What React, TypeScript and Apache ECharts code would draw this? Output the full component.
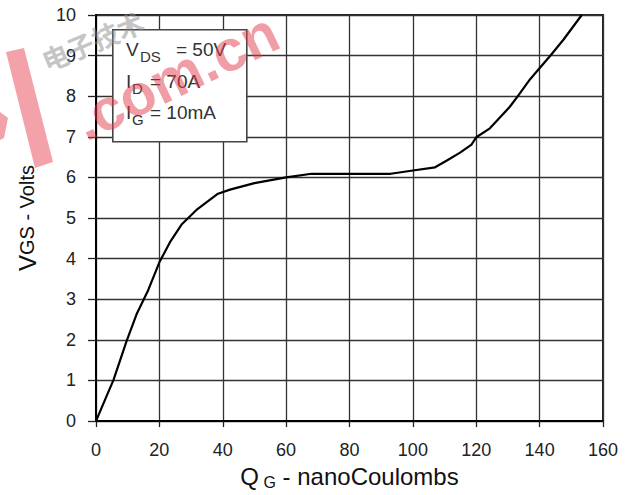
import React, { useEffect, useRef } from "react";
import * as echarts from "echarts";

const qg = [0, 3.3, 5.5, 9.7, 12.8, 16.5, 20, 23.3, 27, 31.7, 38.5, 42.3, 50, 60, 68, 80, 93, 100, 107, 110.6, 114.9, 118.5, 120, 124.3, 130.6, 133.3, 137, 140.1, 143.3, 147.5, 153.3];
const vgs = [0, 0.61, 1.01, 1.98, 2.63, 3.23, 3.91, 4.4, 4.84, 5.2, 5.6, 5.7, 5.86, 6.0, 6.09, 6.09, 6.09, 6.17, 6.25, 6.41, 6.61, 6.81, 6.99, 7.21, 7.74, 8.02, 8.42, 8.7, 8.99, 9.39, 10.0];
const xTicks = [0, 20, 40, 60, 80, 100, 120, 140, 160];
const yTicks = [0, 1, 2, 3, 4, 5, 6, 7, 8, 9, 10];
const conditions = [
  { main: "V", sub: "DS", rest: "= 50V" },
  { main: "I", sub: "D", rest: "= 70A" },
  { main: "I", sub: "G", rest: "= 10mA" },
];

const FONT = "'Liberation Sans', Arial, sans-serif";

export default function App() {
  const ref = useRef<HTMLDivElement>(null);
  useEffect(() => {
    if (!ref.current) return;
    const chart = echarts.init(ref.current, null, { renderer: "svg" });
    const points = qg.map((q, i) => [q, vgs[i]]);
    const legendTexts: any[] = [];
    const rowY = [50, 82, 113];
    conditions.forEach((c, i) => {
      const y = rowY[i];
      const mainW = c.main === "V" ? 13 : 5;
      legendTexts.push({
        type: "text", left: 126, top: y - 10,
        style: { text: c.main, font: `19px ${FONT}`, fill: "#333" },
      });
      legendTexts.push({
        type: "text", left: 126 + mainW + 1, top: y - 1,
        style: { text: c.sub, font: `15px ${FONT}`, fill: "#333" },
      });
      legendTexts.push({
        type: "text", left: c.main === "V" ? 176 : 150, top: y - 10,
        style: { text: c.rest, font: `19px ${FONT}`, fill: "#333" },
      });
    });
    chart.setOption({
      animation: false,
      backgroundColor: "#fff",
      grid: {
        left: 96, right: 29, top: 15, bottom: 66,
        show: true, borderColor: "#222", borderWidth: 2, backgroundColor: "transparent",
      },
      xAxis: {
        type: "value", min: 0, max: 160, interval: 20,
        name: "{q|Q}{s| G}{r| - nanoCoulombs}",
        nameLocation: "middle", nameGap: 39,
        nameTextStyle: {
          rich: {
            q: { fontSize: 24, fontFamily: FONT, color: "#111", lineHeight: 28, verticalAlign: "middle" },
            s: { fontSize: 16, fontFamily: FONT, color: "#111", lineHeight: 15, verticalAlign: "bottom" },
            r: { fontSize: 24, fontFamily: FONT, color: "#111", lineHeight: 28, verticalAlign: "middle" },
          },
        },
        axisLine: { show: true, onZero: false, lineStyle: { color: "#000", width: 2 } },
        axisTick: { show: true, length: 6, lineStyle: { color: "#222", width: 1.3 } },
        axisLabel: {
          margin: 20, fontSize: 18, fontFamily: FONT, color: "#222",
          formatter: (v: number) => (xTicks.includes(v) ? String(v) : ""),
        },
        splitLine: { show: true, lineStyle: { color: "#333", width: 1.3 } },
      },
      yAxis: {
        type: "value", min: 0, max: 10, interval: 1,
        name: "{v|V}{g|GS - Volts}",
        nameLocation: "middle", nameGap: 57,
        nameTextStyle: {
          rich: {
            v: { fontSize: 24, fontFamily: FONT, color: "#111" },
            g: { fontSize: 20, fontFamily: FONT, color: "#111" },
          },
        },
        axisLine: { show: true, onZero: false, lineStyle: { color: "#000", width: 2 } },
        axisTick: { show: true, length: 8, lineStyle: { color: "#222", width: 1.3 } },
        axisLabel: {
          margin: 20, fontSize: 18, fontFamily: FONT, color: "#222",
          formatter: (v: number) => (yTicks.includes(v) ? String(v) : ""),
        },
        splitLine: { show: true, lineStyle: { color: "#333", width: 1.3 } },
      },
      series: [
        {
          type: "line", data: points, showSymbol: false, symbol: "none",
          lineStyle: { color: "#000", width: 2.2 }, silent: true, z: 5,
        },
      ],
      graphic: [
        {
          type: "rect", left: 112, top: 29, z: 10,
          shape: { width: 134, height: 112 },
          style: { fill: "#fff", stroke: "#444", lineWidth: 1.6 },
        },
        ...legendTexts.map((t) => ({ ...t, z: 11 })),
        {
          type: "text", x: 90, y: 150, rotation: 0.45, z: 20,
          style: {
            text: ".com.cn", font: `bold 58px ${FONT}`, fill: "rgba(228,60,75,0.5)",
            verticalAlign: "bottom",
          },
        },
        {
          type: "text", x: 48, y: 74, rotation: 0.4, z: 20,
          style: {
            text: "电子技术", font: `bold 27px 'Noto Sans CJK SC', sans-serif`, fill: "rgba(140,140,140,0.5)",
            verticalAlign: "bottom",
          },
        },
        {
          type: "polygon", z: 20,
          shape: { points: [[6, 52], [24, 48], [53, 162], [35, 168]] },
          style: { fill: "rgba(232,70,85,0.5)" },
        },
        {
          type: "polygon", z: 20,
          shape: { points: [[0, 112], [8, 118], [4, 138], [0, 140]] },
          style: { fill: "rgba(232,70,85,0.5)" },
        },
      ],
    });
    return () => chart.dispose();
  }, []);
  return (
    <div
      ref={ref}
      style={{ position: "fixed", left: 0, top: 0, width: 632, height: 495 }}
    />
  );
}
